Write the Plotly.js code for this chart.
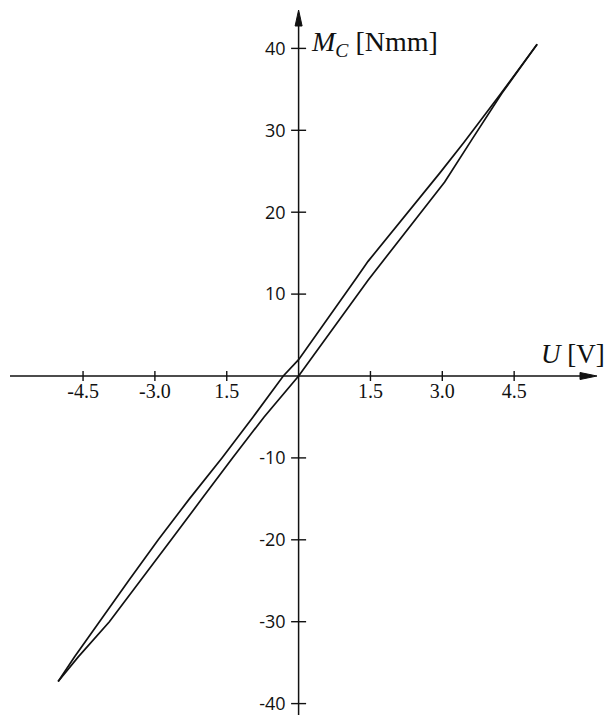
<!DOCTYPE html>
<html>
<head>
<meta charset="utf-8">
<script src="https://cdn.plot.ly/plotly-3.0.1.min.js"></script>
<style>
  html, body { margin: 0; padding: 0; background: #fff; }
  #chart { width: 608px; height: 715px; }
</style>
</head>
<body>
<div id="chart"></div>
<script>
// Hysteresis loop of the actuator moment M_C against supply voltage U.
// Descending branch (from +U max back to -U max)
const uDown = [4.98, 4.20, 3.45, 2.95, 1.45, 1.20, 0.00, -0.32, -0.95, -1.60, -2.28, -2.93, -3.55, -4.15, -4.68, -5.02];
const mDown = [40.5, 34.3, 28.5, 24.8, 14.0, 11.9, 2.0, 0.0, -5.0, -10.0, -15.0, -20.0, -25.0, -30.0, -34.3, -37.3];
// Ascending branch (from -U max up to +U max)
const uUp = [-5.02, -4.60, -3.95, -3.30, -2.66, -2.02, -1.38, -0.72, 0.00, 1.45, 3.05, 3.61, 4.24, 4.98];
const mUp = [-37.3, -34.3, -30.0, -25.0, -20.0, -15.0, -10.0, -5.0, 0.0, 11.7, 23.7, 28.8, 34.5, 40.5];

// Axis ticks
const xTickVals = [-4.5, -3.0, -1.5, 1.5, 3.0, 4.5];
const xTickText = ["-4.5", "-3.0", "1.5", "1.5", "3.0", "4.5"];
const yTickVals = [-40, -30, -20, -10, 10, 20, 30, 40];
const yTickText = ["-40", "-30", "-20", "-10", "10", "20", "30", "40"];

const W = 608, H = 715;
const x0px = 298.6, xScale = 47.9;   // px per volt
const y0px = 376, yScale = 8.19;     // px per Nmm
const xRange = [-x0px / xScale, (W - x0px) / xScale];
const yRange = [(y0px - H) / yScale, y0px / yScale];
// pixel -> data helpers for the axis decorations
const dx = px => (px - x0px) / xScale;
const dy = py => (y0px - py) / yScale;

const lineStyle = { color: '#111', width: 1.7 };
const traces = [
  { x: uDown, y: mDown, mode: 'lines', line: lineStyle, hoverinfo: 'skip' },
  { x: uUp, y: mUp, mode: 'lines', line: lineStyle, hoverinfo: 'skip' }
];

const ink = '#111';
const shapes = [];
// axis lines
shapes.push({ type: 'line', xref: 'x', yref: 'y', x0: dx(10), x1: dx(588), y0: 0, y1: 0,
  line: { color: ink, width: 1.5 } });
shapes.push({ type: 'line', xref: 'x', yref: 'y', x0: 0, x1: 0, y0: dy(H), y1: dy(20),
  line: { color: ink, width: 1.5 } });
// arrowheads
shapes.push({ type: 'path', xref: 'x', yref: 'y', fillcolor: ink, line: { color: ink, width: 1 },
  path: `M ${dx(597)},0 L ${dx(580)},${dy(y0px - 3.5)} L ${dx(580)},${dy(y0px + 3.5)} Z` });
shapes.push({ type: 'path', xref: 'x', yref: 'y', fillcolor: ink, line: { color: ink, width: 1 },
  path: `M 0,${dy(10)} L ${dx(x0px - 3.5)},${dy(26)} L ${dx(x0px + 3.5)},${dy(26)} Z` });
// crossing tick marks
const xTickHalf = 5 / yScale;
const yTickHalf = 7.5 / xScale;
xTickVals.forEach(v => shapes.push({
  type: 'line', xref: 'x', yref: 'y', x0: v, x1: v, y0: -xTickHalf, y1: xTickHalf,
  line: { color: ink, width: 1.4 }
}));
yTickVals.forEach(v => shapes.push({
  type: 'line', xref: 'x', yref: 'y', x0: -yTickHalf, x1: yTickHalf, y0: v, y1: v,
  line: { color: ink, width: 1.4 }
}));

const serif = 'Liberation Serif, Times New Roman, serif';
const annotations = [
  { x: 539 / W, y: 1 - 371 / H, xref: 'paper', yref: 'paper', xanchor: 'left', yanchor: 'bottom',
    text: '<i>U</i> [V]', showarrow: false, font: { family: serif, size: 27, color: ink } },
  { x: 309 / W, y: 1 - 63 / H, xref: 'paper', yref: 'paper', xanchor: 'left', yanchor: 'bottom',
    text: '<i>M<sub>C</sub></i> [Nmm]', showarrow: false, font: { family: serif, size: 28, color: ink } }
];

const layout = {
  width: W, height: H,
  margin: { l: 0, r: 0, t: 0, b: 0, pad: 0 },
  paper_bgcolor: '#fff', plot_bgcolor: '#fff',
  showlegend: false,
  xaxis: {
    range: xRange, anchor: 'free', position: (H - y0px) / H,
    showgrid: false, zeroline: false, showline: false, ticks: '',
    tickmode: 'array', tickvals: xTickVals, ticktext: xTickText,
    tickfont: { family: serif, size: 20, color: ink },
    ticklabelstandoff: 1, fixedrange: true
  },
  yaxis: {
    range: yRange, anchor: 'free', position: x0px / W,
    showgrid: false, zeroline: false, showline: false, ticks: '',
    tickmode: 'array', tickvals: yTickVals, ticktext: yTickText,
    tickfont: { family: 'Open Sans, DejaVu Sans, sans-serif', size: 18, color: ink },
    ticklabelstandoff: 13, fixedrange: true
  },
  shapes: shapes,
  annotations: annotations
};

Plotly.newPlot('chart', traces, layout, { displayModeBar: false, staticPlot: true });
</script>
</body>
</html>
